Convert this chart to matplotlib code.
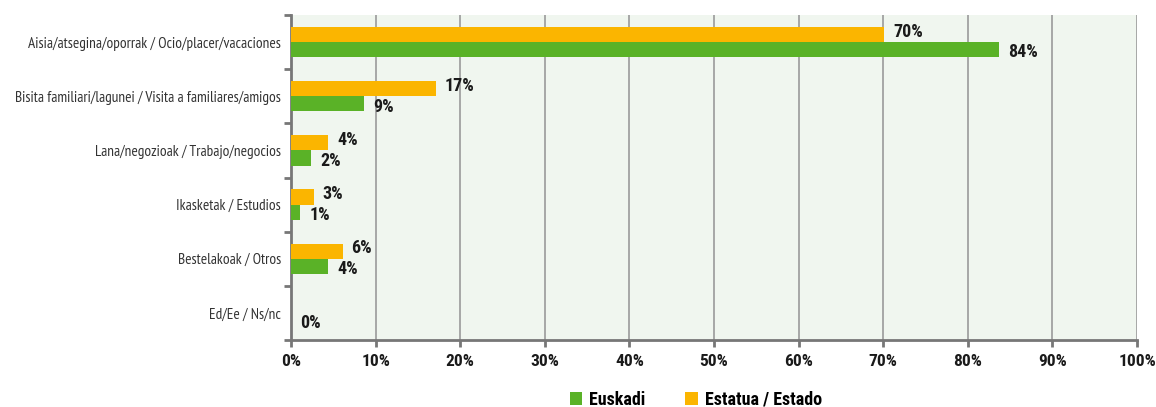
import matplotlib
matplotlib.use("Agg")
import matplotlib.pyplot as plt
import numpy as np
from matplotlib.ticker import FixedLocator, PercentFormatter

plt.rcParams["font.family"] = ["Roboto Condensed", "DejaVu Sans"]

GREEN = "#5ab227"
ORANGE = "#fbb500"
BG = "#f0f6ef"
GRID = "#9a9a9a"
TXT = "#1a1a1a"

categories = [
    "Aisia/atsegina/oporrak / Ocio/placer/vacaciones",
    "Bisita familiari/lagunei / Visita a familiares/amigos",
    "Lana/negozioak / Trabajo/negocios",
    "Ikasketak / Estudios",
    "Bestelakoak / Otros",
    "Ed/Ee / Ns/nc",
]
euskadi = [83.7, 8.6, 2.4, 1.1, 4.4, 0.0]
estado = [70.1, 17.1, 4.4, 2.7, 6.1, 0.0]
series_names = ["Euskadi", "Estatua / Estado"]

fig = plt.figure(figsize=(11.56, 4.07), dpi=100)
ax = fig.add_axes([0.2517, 0.1646, 0.7319, 0.7985])
ax.set_facecolor(BG)

y = np.arange(len(categories))
h = 0.28
b_eus = ax.barh(y + h / 2, euskadi, height=h, color=GREEN, label=series_names[0], zorder=3)
b_est = ax.barh(y - h / 2, estado, height=h, color=ORANGE, label=series_names[1], zorder=3)

lab_kw = dict(fontsize=13, fontweight="bold", color=TXT)
for rect, v in zip(b_est, estado):
    if v > 0:
        ax.annotate(f"{v:.0f}%", (rect.get_width(), rect.get_y() + rect.get_height() / 2),
                    xytext=(6.5, 2), textcoords="offset points", va="center", **lab_kw)
for rect, v in zip(b_eus, euskadi):
    ax.annotate(f"{v:.0f}%", (rect.get_width(), rect.get_y() + rect.get_height() / 2),
                xytext=(6.5, -2), textcoords="offset points", va="center", **lab_kw)

ax.set_xlim(0, 100)
ax.set_ylim(len(categories) - 0.5, -0.5)
ax.set_xticks(np.arange(0, 101, 10))
ax.xaxis.set_major_formatter(PercentFormatter(decimals=0))
ax.grid(axis="x", color=GRID, linewidth=1.2, zorder=0)
ax.set_axisbelow(True)

ax.set_yticks(y)
ax.set_yticklabels(categories, fontsize=11, color="#333333",
                   family=["PT Sans Narrow", "DejaVu Sans"])
ax.yaxis.set_minor_locator(FixedLocator(np.arange(-0.5, len(categories), 1)))
ax.tick_params(axis="y", which="major", length=0, pad=7)
ax.tick_params(axis="y", which="minor", length=5, width=2, color="#777777")
ax.tick_params(axis="x", length=5, width=2, color="#777777", pad=5, labelsize=12.5)
for t in ax.get_xticklabels():
    t.set_fontweight("bold")
    t.set_color(TXT)

for s in ["top", "right"]:
    ax.spines[s].set_visible(False)
for s in ["left", "bottom"]:
    ax.spines[s].set_color("#777777")
    ax.spines[s].set_linewidth(2)

handles = [b_eus, b_est]
fig.legend(handles, series_names, loc="center", bbox_to_anchor=(0.602, 0.018), ncol=2,
           frameon=False, handlelength=0.7, handleheight=0.7, handletextpad=0.4,
           columnspacing=2.2, prop={"size": 13, "weight": "bold"})

fig.savefig("out.png", dpi=100)
